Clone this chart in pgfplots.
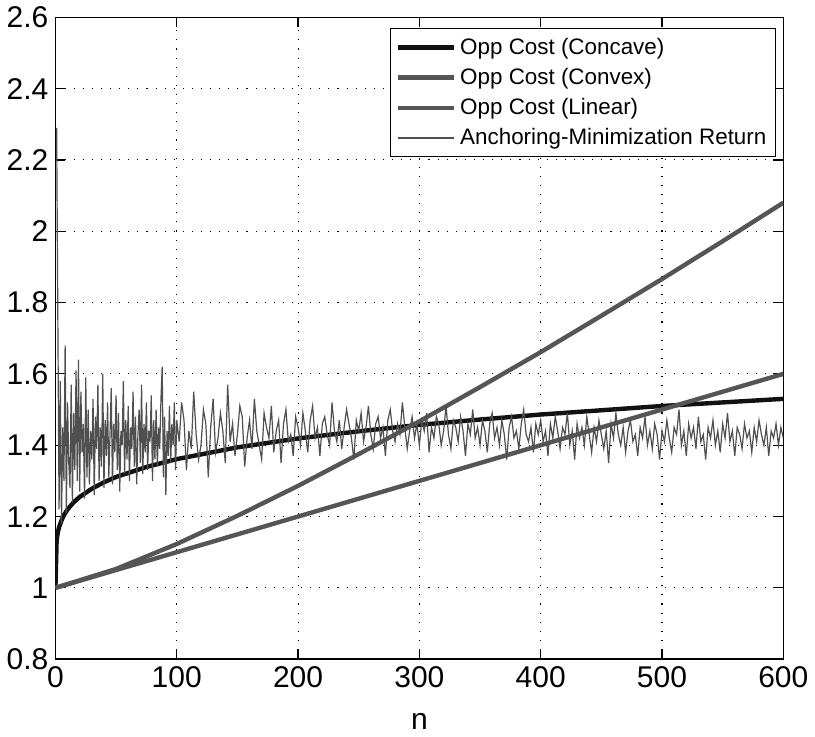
\documentclass[border=0pt]{standalone}
\usepackage{pgfplots}
\pgfplotsset{compat=1.18}
\usepackage{fontspec}
\setmainfont{Liberation Sans}
\definecolor{cconc}{HTML}{111111}
\definecolor{cline}{HTML}{555555}
\definecolor{cnoise}{HTML}{505050}
\begin{document}
\begin{tikzpicture}
\begin{axis}[
  scale only axis,
  width=364pt, height=321pt,
  xmin=0, xmax=600, ymin=0.8, ymax=2.6,
  xtick={0,100,...,600},
  ytick={0.8,1,...,2.6},
  yticklabels={0.8,1,1.2,1.4,1.6,1.8,2,2.2,2.4,2.6},
  grid=major,
  grid style={black, line width=0.55pt, dash pattern=on 0.55pt off 4pt},
  tick align=inside,
  major tick length=5pt,
  axis line style={black, line width=0.7pt},
  tick style={black, line width=0.6pt},
  ticklabel style={font=\fontsize{15}{18}\selectfont},
  /pgf/number format/assume math mode=true,
  xlabel={n},
  xlabel style={font=\fontsize{15}{18}\selectfont, yshift=-6pt},
  legend style={at={(0.99,0.983)}, anchor=north east, draw=black, line width=0.6pt,
    font=\fontsize{11.2}{13.5}\selectfont, inner sep=2.5pt, row sep=1.5pt,
    legend cell align=left},
  legend image code/.code={\draw[#1] (0pt,0pt) -- (28pt,0pt);},
]
\addplot[cconc, line width=2.2pt] coordinates {
(0,1) (1,1.134) (2,1.156) (3,1.170) (5,1.189) (7,1.204) (10,1.220) (15,1.240) (20,1.255) (30,1.278) (40,1.296) (50,1.311) (75,1.339) (100,1.361) (150,1.394) (200,1.419) (250,1.439) (300,1.457) (350,1.472) (400,1.486) (450,1.498) (500,1.510) (550,1.520) (600,1.530)};
\addlegendentry{Opp Cost (Concave)}
\addplot[cline, line width=2.2pt] coordinates {
(0,1) (50,1.053) (100,1.123) (150,1.202) (200,1.286) (250,1.375) (300,1.467) (350,1.563) (400,1.661) (450,1.763) (500,1.866) (550,1.972) (600,2.080)};
\addlegendentry{Opp Cost (Convex)}
\addplot[cline, line width=2.2pt] coordinates {
(0,1) (600,1.6)};
\addlegendentry{Opp Cost (Linear)}
\addplot[cnoise, line width=0.6pt] table[x=n, y=r] {
n r
1 2.29
2 1.75
3 1.22
4 1.58
5 1.18
6 1.45
7 1.30
8 1.68
9 1.21
10 1.52
11 1.35
12 1.28
13 1.57
14 1.24
15 1.49
16 1.33
17 1.61
18 1.30
19 1.64
20 1.27
21 1.55
22 1.38
23 1.46
24 1.25
25 1.59
26 1.31
27 1.50
28 1.29
29 1.44
30 1.36
31 1.53
32 1.26
33 1.48
34 1.39
35 1.57
36 1.30
37 1.45
38 1.34
39 1.60
40 1.28
41 1.47
42 1.37
43 1.52
44 1.31
45 1.43
46 1.56
47 1.29
48 1.46
49 1.38
50 1.54
51 1.33
52 1.49
53 1.27
54 1.44
55 1.40
56 1.58
57 1.32
58 1.47
59 1.36
60 1.51
61 1.30
62 1.45
63 1.39
64 1.55
65 1.34
66 1.48
67 1.29
68 1.43
69 1.50
70 1.35
71 1.57
72 1.32
73 1.46
74 1.38
75 1.52
76 1.33
77 1.44
78 1.41
79 1.54
80 1.30
81 1.47
82 1.36
83 1.50
84 1.34
85 1.45
86 1.39
87 1.53
88 1.62
89 1.31
90 1.48
91 1.26
92 1.44
93 1.37
94 1.51
95 1.35
96 1.46
97 1.40
98 1.52
99 1.33
100 1.47
102 1.41
104 1.52
106 1.47
108 1.33
110 1.44
112 1.39
114 1.55
116 1.43
118 1.36
120 1.40
122 1.50
124 1.46
126 1.31
128 1.45
130 1.53
132 1.38
134 1.42
136 1.49
138 1.44
140 1.35
142 1.57
144 1.41
146 1.46
148 1.37
150 1.43
152 1.51
154 1.48
156 1.34
158 1.42
160 1.47
162 1.39
164 1.53
166 1.44
168 1.40
170 1.36
172 1.49
174 1.45
176 1.42
178 1.51
180 1.38
182 1.44
184 1.47
186 1.35
188 1.46
190 1.50
192 1.41
194 1.43
196 1.37
198 1.48
200 1.45
202 1.40
204 1.49
206 1.44
208 1.38
210 1.47
212 1.51
214 1.42
216 1.45
218 1.37
220 1.46
222 1.48
224 1.43
226 1.40
228 1.52
230 1.44
232 1.41
234 1.47
236 1.39
238 1.45
240 1.50
242 1.46
244 1.42
246 1.36
248 1.47
250 1.44
252 1.49
254 1.41
256 1.45
258 1.51
260 1.43
262 1.39
264 1.46
266 1.48
268 1.42
270 1.45
272 1.37
274 1.47
276 1.50
278 1.44
280 1.41
282 1.46
284 1.43
286 1.52
288 1.45
290 1.39
292 1.44
294 1.48
296 1.42
298 1.46
300 1.40
302 1.47
304 1.44
306 1.49
308 1.38
310 1.45
312 1.42
314 1.48
316 1.46
318 1.40
320 1.44
322 1.51
324 1.43
326 1.39
328 1.47
330 1.45
332 1.41
334 1.48
336 1.44
338 1.37
340 1.46
342 1.43
344 1.50
346 1.42
348 1.45
350 1.40
352 1.47
354 1.44
356 1.38
358 1.46
360 1.49
362 1.42
364 1.45
366 1.40
368 1.47
370 1.43
372 1.36
374 1.45
376 1.48
378 1.42
380 1.44
382 1.39
384 1.46
386 1.50
388 1.43
390 1.41
392 1.45
394 1.38
396 1.46
398 1.43
400 1.47
402 1.41
404 1.44
406 1.37
408 1.46
410 1.42
412 1.48
414 1.44
416 1.39
418 1.45
420 1.43
422 1.49
424 1.40
426 1.44
428 1.36
430 1.46
432 1.42
434 1.45
436 1.40
438 1.48
440 1.43
442 1.38
444 1.45
446 1.41
448 1.47
450 1.43
452 1.39
454 1.44
456 1.35
458 1.46
460 1.42
462 1.49
464 1.43
466 1.40
468 1.45
470 1.38
472 1.44
474 1.47
476 1.41
478 1.43
480 1.37
482 1.45
484 1.42
486 1.48
488 1.40
490 1.44
492 1.39
494 1.46
496 1.43
498 1.36
500 1.44
502 1.41
504 1.47
506 1.42
508 1.38
510 1.45
512 1.43
514 1.50
516 1.40
518 1.44
520 1.37
522 1.46
524 1.42
526 1.45
528 1.39
530 1.48
532 1.41
534 1.43
536 1.36
538 1.45
540 1.42
542 1.47
544 1.40
546 1.44
548 1.38
550 1.46
552 1.42
554 1.49
556 1.41
558 1.44
560 1.37
562 1.45
564 1.43
566 1.39
568 1.46
570 1.42
572 1.44
574 1.38
576 1.45
578 1.41
580 1.47
582 1.43
584 1.40
586 1.45
588 1.37
590 1.44
592 1.42
594 1.46
596 1.40
598 1.45
600 1.42
};
\addlegendentry{Anchoring-Minimization Return}
\end{axis}
\end{tikzpicture}
\end{document}
